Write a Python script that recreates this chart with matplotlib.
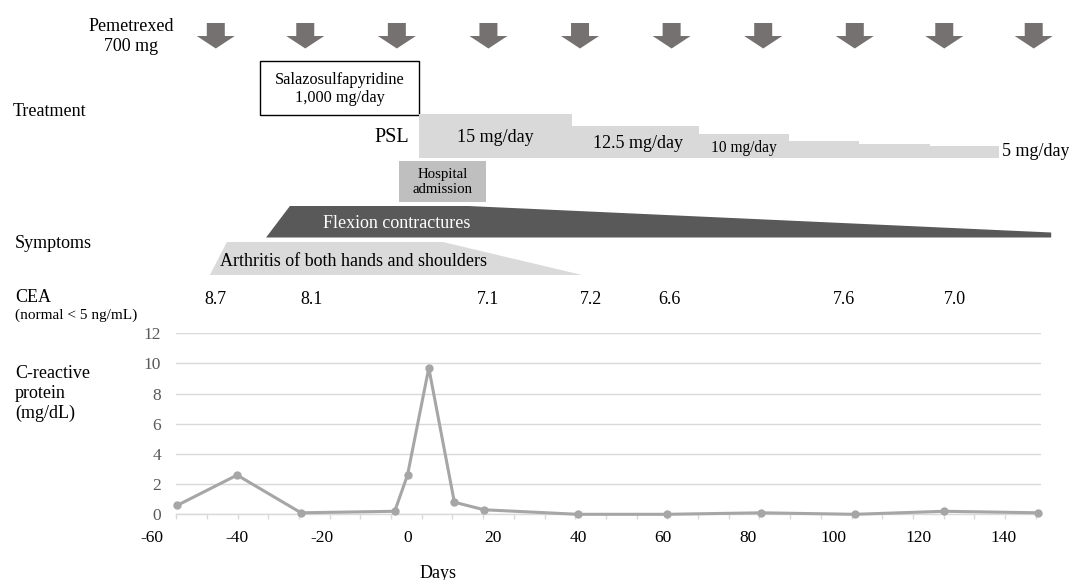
import numpy as np
import matplotlib
matplotlib.use("Agg")
import matplotlib.pyplot as plt
from matplotlib.patches import Polygon, Rectangle

plt.rcParams['font.family'] = ['Liberation Serif', 'DejaVu Serif']

# ---------------- data ----------------
crp_days = [-54, -40, -25, -3, 0, 5, 11, 18, 40, 61, 83, 105, 126, 148]
crp_vals = [0.6, 2.6, 0.1, 0.2, 2.6, 9.7, 0.8, 0.3, 0.0, 0.0, 0.1, 0.0, 0.2, 0.1]

cea_days = [-45, -22.5, 19, 43, 61.5, 102.5, 128.5]
cea_vals = [8.7, 8.1, 7.1, 7.2, 6.6, 7.6, 7.0]

pemetrexed_days = [-45, -24, -2.5, 19, 40.5, 62, 83.5, 105, 126, 147]

psl_bounds = [2.7, 38.6, 68.4, 89.6, 106, 122.7, 138.8]
psl_labels = ['15 mg/day', '12.5 mg/day', '10 mg/day', '', '', '5 mg/day']

salazo_span = [-34.6, 2.7]
hospital_span = [-2.0, 18.4]
flexion_days = [-33.2, -27.6, 14.2, 151.1]
arthritis_days = [-46.4, -42.4, 8.3, 41.0]

x_tick_labels = [-60, -40, -20, 0, 20, 40, 60, 80, 100, 120, 140]
y_ticks = [0, 2, 4, 6, 8, 10, 12]

# ---------------- layout ----------------
W, H = 1069, 580
X0, PPD = 407.5, 4.26          # pixel of day 0, pixels per day
XMIN, XMAX = -54.3, 148.6
Y_TOP_PX, Y_BOT_PX = 333.3, 514.3

fig = plt.figure(figsize=(W / 100, H / 100), dpi=100)
fig.patch.set_facecolor('white')

# overlay axes: x in days, y in pixels from top
ov = fig.add_axes([0, 0, 1, 1])
ov.set_xlim(-X0 / PPD, (W - X0) / PPD)
ov.set_ylim(H, 0)
ov.axis('off')

FS = 13

def ftext(xp, yp, s, **kw):
    fig.text(xp / W, 1 - yp / H, s, **kw)

# row labels
ftext(131, 36.5, 'Pemetrexed\n700 mg', ha='center', va='center', fontsize=FS, multialignment='center')
ftext(13, 112, 'Treatment', ha='left', va='center', fontsize=FS)
ftext(15, 243, 'Symptoms', ha='left', va='center', fontsize=FS)
ftext(15, 298, 'CEA', ha='left', va='center', fontsize=FS)
ftext(15, 315, '(normal < 5 ng/mL)', ha='left', va='center', fontsize=11)
ftext(15, 393.5, 'C-reactive\nprotein\n(mg/dL)', ha='left', va='center', fontsize=FS, linespacing=1.25)

# pemetrexed arrows
arrow_col = '#767171'
hw, bw = 19 / PPD, 9 / PPD
for d in pemetrexed_days:
    pts = [(d - bw, 23), (d + bw, 23), (d + bw, 36), (d + hw, 36),
           (d, 48.5), (d - hw, 36), (d - bw, 36)]
    ov.add_patch(Polygon(pts, closed=True, facecolor=arrow_col, edgecolor='none'))

# salazosulfapyridine box
ov.add_patch(Rectangle((salazo_span[0], 61), salazo_span[1] - salazo_span[0], 54,
                       facecolor='white', edgecolor='black', lw=1.0))
ov.text(np.mean(salazo_span), 89, 'Salazosulfapyridine\n1,000 mg/day', ha='center', va='center',
        fontsize=11.7, linespacing=1.2)

# PSL steps
ov.text((409 - X0) / PPD, 138, 'PSL', ha='right', va='center', fontsize=14.5)
psl_heights = [44, 32, 24, 17, 14, 12]
base = 158
for i, h in enumerate(psl_heights):
    ov.add_patch(Rectangle((psl_bounds[i], base - h), psl_bounds[i + 1] - psl_bounds[i], h,
                           facecolor='#D9D9D9', edgecolor='none'))
ov.text((495 - X0) / PPD, 138, psl_labels[0], ha='center', va='center', fontsize=FS)
ov.text((638 - X0) / PPD, 143, psl_labels[1], ha='center', va='center', fontsize=FS)
ov.text((744 - X0) / PPD, 148, psl_labels[2], ha='center', va='center', fontsize=11.2)
ov.text((1002 - X0) / PPD, 152, psl_labels[5], ha='left', va='center', fontsize=FS)

# hospital admission
ov.add_patch(Rectangle((hospital_span[0], 161), hospital_span[1] - hospital_span[0], 41,
                       facecolor='#BFBFBF', edgecolor='none'))
ov.text(np.mean(hospital_span), 182, 'Hospital\nadmission', ha='center', va='center',
        fontsize=10.7, linespacing=1.15)

# flexion contractures
f = flexion_days
ov.add_patch(Polygon([(f[0], 237.5), (f[1], 206), (f[2], 206), (f[3], 232.5), (f[3], 237.5)],
                     closed=True, facecolor='#595959', edgecolor='none'))
ov.text((397 - X0) / PPD, 223, 'Flexion contractures', ha='center', va='center',
        fontsize=FS, color='white')

# arthritis
a = arthritis_days
ov.add_patch(Polygon([(a[0], 275), (a[1], 242), (a[2], 242), (a[3], 275)],
                     closed=True, facecolor='#DADADA', edgecolor='none'))
ov.text((353 - X0) / PPD, 262, 'Arthritis of both hands and shoulders', ha='center', va='center',
        fontsize=FS)

# CEA values
for d, v in zip(cea_days, cea_vals):
    ov.text(d, 299, f'{v:.1f}', ha='center', va='center', fontsize=FS)

# ---------------- CRP chart ----------------
left = (X0 + PPD * XMIN) / W
right = (X0 + PPD * XMAX) / W
ax = fig.add_axes([left, 1 - Y_BOT_PX / H, right - left, (Y_BOT_PX - Y_TOP_PX) / H])
ax.patch.set_alpha(0)
ax.set_xlim(XMIN, XMAX)
ax.set_ylim(0, 12)
ax.plot(crp_days, crp_vals, color='#A6A6A6', lw=2.2, marker='o', markersize=5,
        markerfacecolor='#A6A6A6', markeredgecolor='#A6A6A6', clip_on=False, zorder=3)

ax.set_yticks(y_ticks)
ax.set_yticklabels([str(t) for t in y_ticks], fontsize=12.5, color='#595959')
ax.tick_params(axis='y', length=0, pad=11)
ax.yaxis.grid(True, color='#D9D9D9', lw=1)
ax.set_axisbelow(True)
for s in ['top', 'right', 'left']:
    ax.spines[s].set_visible(False)
ax.spines['bottom'].set_color('#D9D9D9')
ax.spines['bottom'].set_linewidth(1)

minor = np.arange(XMIN, XMAX + 0.5, 30.7 / PPD)
ax.set_xticks(minor)
ax.set_xticklabels([])
ax.tick_params(axis='x', length=3.5, color='#D9D9D9', width=1, direction='out')

for t in x_tick_labels:
    ov.text(t, 538, f'{t}', ha='center', va='center', fontsize=12.5)

ov.text((438 - X0) / PPD, 573, 'Days', ha='center', va='center', fontsize=FS)

fig.savefig('out.png', dpi=100, facecolor='white')
